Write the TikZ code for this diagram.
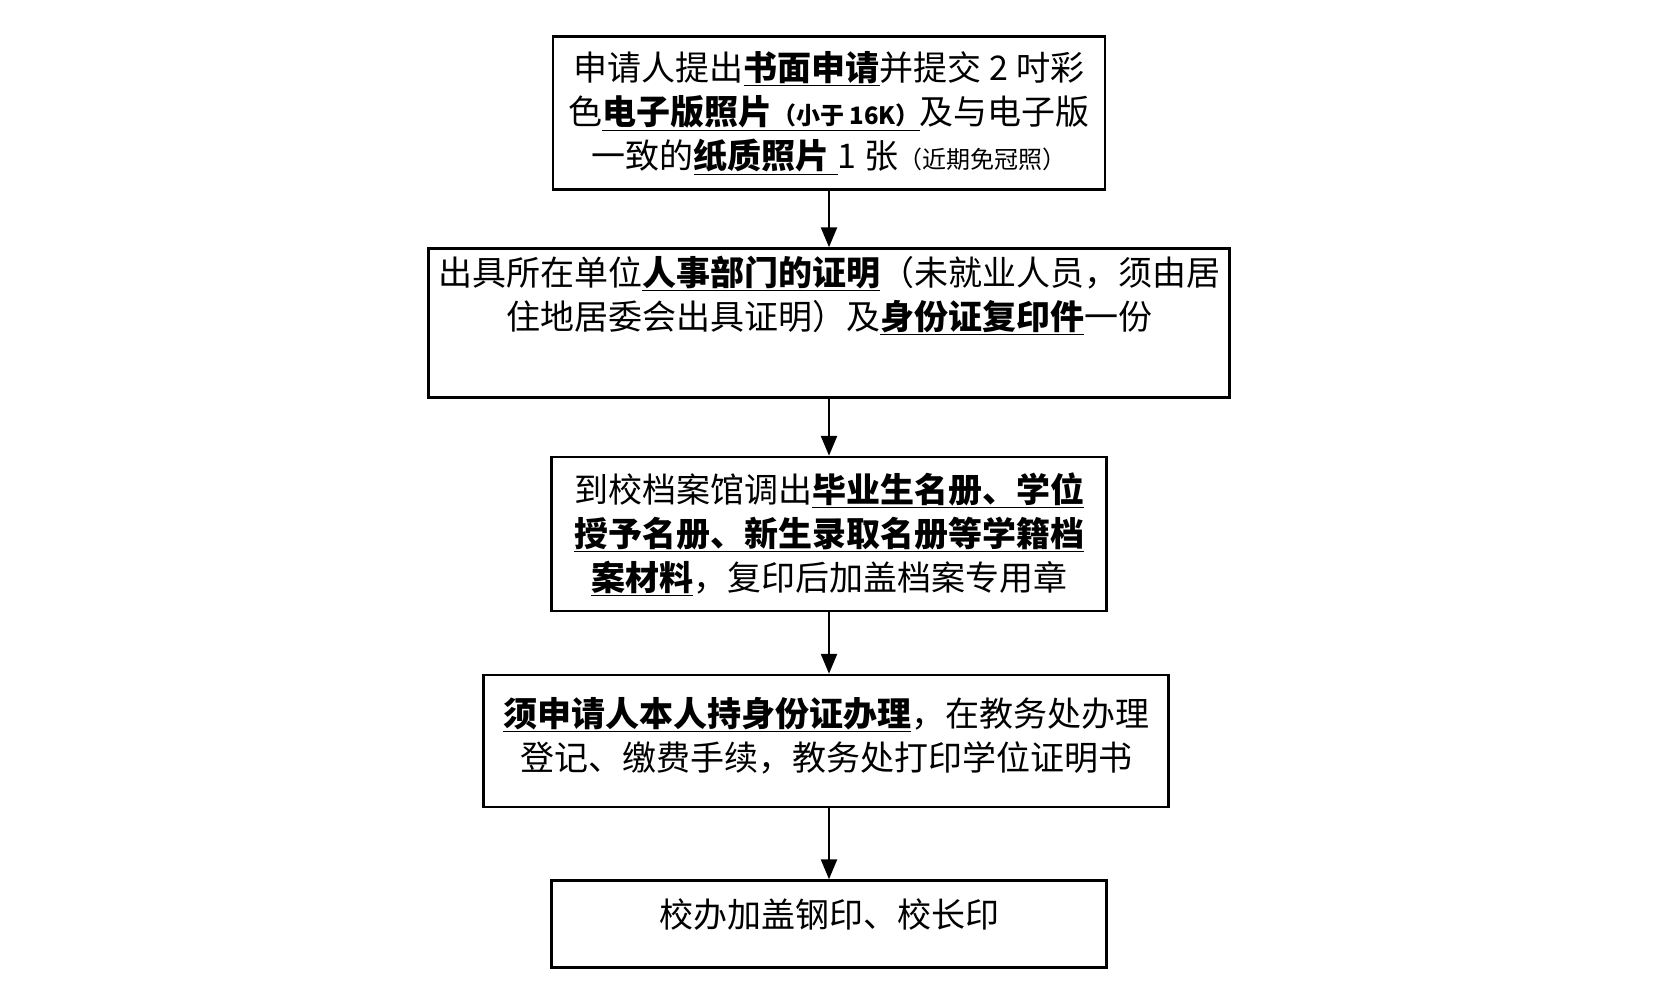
\documentclass[tikz,border=0pt]{standalone}
\usepackage{fontspec}
\setmainfont{Noto Sans CJK SC}
\usetikzlibrary{arrows.meta}
\newcommand{\ub}[1]{\underline{\textbf{#1}}}
\begin{document}
\begin{tikzpicture}[x=1pt,y=-1pt,
  box/.style={draw,line width=2.5pt,inner sep=0pt,align=center,font=\fontsize{34}{44}\selectfont},
  arr/.style={line width=2.5pt,-{Triangle[length=20pt,width=16pt]}}]
\useasboundingbox (0,0) rectangle (1654,1005);
\node[box,minimum width=552pt,minimum height=153pt] (a) at (829,113) {申请人提出\ub{书面申请}并提交 2 吋彩\\色\ub{电子版照片{\fontsize{24}{24}\selectfont（小于 16K）}}及与电子版\\一致的\ub{纸质照片 }1 张{\fontsize{24}{24}\selectfont（近期免冠照）}};
\node[box,minimum width=801pt,minimum height=149pt,text depth=60pt] (b) at (829,323) {出具所在单位\ub{人事部门的证明}（未就业人员，须由居\\住地居委会出具证明）及\ub{身份证复印件}一份};
\node[box,minimum width=555pt,minimum height=154pt] (c) at (829,534) {到校档案馆调出\ub{毕业生名册、学位}\\\ub{授予名册、新生录取名册等学籍档}\\\ub{案材料}，复印后加盖档案专用章};
\node[box,minimum width=685pt,minimum height=132pt,text depth=14pt] (d) at (826,741) {\ub{须申请人本人持身份证办理}，在教务处办理\\登记、缴费手续，教务处打印学位证明书};
\node[box,minimum width=555pt,minimum height=87pt,text depth=22pt] (e) at (829,924) {校办加盖钢印、校长印};
\draw[arr] (a) -- (b);
\draw[arr] (b.south-|a) -- (c);
\draw[arr] (c) -- (d.north-|c);
\draw[arr] (d.south-|c) -- (e);
\end{tikzpicture}
\end{document}
